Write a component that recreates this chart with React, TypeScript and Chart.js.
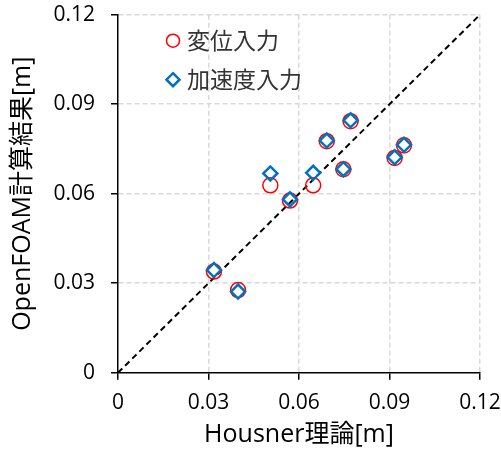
import React, { useEffect, useRef } from "react";
import { Chart, registerables } from "chart.js";

Chart.register(...registerables);

// Data
const housnerX = [0.0318, 0.0398, 0.0505, 0.057, 0.0647, 0.0692, 0.0747, 0.0771, 0.0917, 0.0948];
const dispInputY = [0.0339, 0.0277, 0.0628, 0.0577, 0.0628, 0.0776, 0.0682, 0.0843, 0.072, 0.0762];
const accInputY = [0.0344, 0.0272, 0.0668, 0.0581, 0.067, 0.0778, 0.0682, 0.0846, 0.0722, 0.0764];
const refLineX = [0, 0.12];
const refLineY = [0, 0.12];
const xTickLabels = ["0", "0.03", "0.06", "0.09", "0.12"];
const yTickLabels = ["0", "0.03", "0.06", "0.09", "0.12"];
const seriesNames = ["変位入力", "加速度入力"];
const xTitle = "Housner理論[m]";
const yTitle = "OpenFOAM計算結果[m]";

const RED = "#FF0000";
const BLUE = "#0070C0";
const FONT = "'Open Sans', 'Noto Sans CJK JP', sans-serif";

const legendPlugin = {
  id: "insideLegend",
  afterDraw(chart: any) {
    const { ctx, chartArea } = chart;
    const mx = chartArea.left + 55;
    const tx = chartArea.left + 69;
    const rows = [chartArea.top + 26, chartArea.top + 65];
    ctx.save();
    ctx.beginPath();
    ctx.strokeStyle = RED;
    ctx.lineWidth = 1.5;
    ctx.arc(mx, rows[0], 6.5, 0, Math.PI * 2);
    ctx.stroke();
    const d = 6.5;
    ctx.beginPath();
    ctx.strokeStyle = BLUE;
    ctx.lineWidth = 2.5;
    ctx.moveTo(mx, rows[1] - d);
    ctx.lineTo(mx + d, rows[1]);
    ctx.lineTo(mx, rows[1] + d);
    ctx.lineTo(mx - d, rows[1]);
    ctx.closePath();
    ctx.stroke();
    ctx.fillStyle = "#333";
    ctx.font = "23px 'Noto Sans CJK JP', sans-serif";
    ctx.textAlign = "left";
    ctx.textBaseline = "middle";
    ctx.fillText(seriesNames[0], tx, rows[0]);
    ctx.fillText(seriesNames[1], tx, rows[1]);
    ctx.restore();
  },
};

const zeroPad = (scale: any) => {
  scale.paddingTop = 0;
  scale.paddingBottom = 0;
  scale.paddingLeft = 0;
  scale.paddingRight = 0;
};

export default function App() {
  const ref = useRef<HTMLCanvasElement | null>(null);
  useEffect(() => {
    if (!ref.current) return;
    const chart = new Chart(ref.current, {
      type: "scatter",
      data: {
        datasets: [
          {
            type: "line",
            label: "y=x",
            data: refLineX.map((x, i) => ({ x, y: refLineY[i] })),
            borderColor: "#000",
            borderWidth: 2,
            borderDash: [6, 4],
            pointRadius: 0,
            fill: false,
            order: 3,
          } as any,
          {
            label: seriesNames[0],
            data: housnerX.map((x, i) => ({ x, y: dispInputY[i] })),
            pointStyle: "circle",
            pointRadius: 7.5,
            pointBorderWidth: 1.5,
            borderColor: RED,
            backgroundColor: "transparent",
            order: 2,
          },
          {
            label: seriesNames[1],
            data: housnerX.map((x, i) => ({ x, y: accInputY[i] })),
            pointStyle: "rectRot",
            pointRadius: 7,
            pointBorderWidth: 2.5,
            borderColor: BLUE,
            backgroundColor: "transparent",
            order: 1,
          },
        ],
      },
      options: {
        animation: false,
        responsive: false,
        layout: { padding: { left: 0, top: 14.7, right: 21, bottom: 0 } },
        plugins: { legend: { display: false }, tooltip: { enabled: false } },
        scales: {
          x: {
            type: "linear",
            min: 0,
            max: 0.12,
            afterFit(scale: any) {
              scale.height = 81.3;
              zeroPad(scale);
            },
            ticks: {
              stepSize: 0.03,
              color: "#000",
              padding: 11,
              font: { family: FONT, size: 21 },
              callback: (_v: any, i: number) => xTickLabels[i],
            },
            grid: {
              color: (c: any) => (c.index === 0 ? "transparent" : "#d9d9d9"),
              lineWidth: 1.5,
              tickColor: "#000",
              tickLength: 7,
              tickWidth: 1.5,
              tickBorderDash: [],
            },
            border: { display: true, color: "#000", width: 1.5, dash: [5, 3] },
            title: {
              display: true,
              text: xTitle,
              color: "#000",
              font: { family: FONT, size: 25 },
              padding: { top: 0, bottom: 4 },
            },
          },
          y: {
            type: "linear",
            min: 0,
            max: 0.12,
            afterFit(scale: any) {
              scale.width = 118;
              zeroPad(scale);
            },
            ticks: {
              stepSize: 0.03,
              color: "#000",
              padding: 16,
              font: { family: FONT, size: 21 },
              callback: (_v: any, i: number) => yTickLabels[i],
            },
            grid: {
              color: (c: any) => (c.index === 0 ? "transparent" : "#d9d9d9"),
              lineWidth: 1.5,
              tickColor: "#000",
              tickLength: 7,
              tickWidth: 1.5,
              tickBorderDash: [],
            },
            border: { display: true, color: "#000", width: 1.5, dash: [5, 3] },
            title: {
              display: true,
              text: yTitle,
              color: "#000",
              font: { family: FONT, size: 25 },
              padding: { top: 8, bottom: 0 },
            },
          },
        },
      },
      plugins: [legendPlugin],
    });
    return () => chart.destroy();
  }, []);
  return (
    <div style={{ position: "absolute", left: 0, top: 0, width: 501, height: 454, background: "#fff" }}>
      <canvas ref={ref} width={501} height={454} />
    </div>
  );
}
